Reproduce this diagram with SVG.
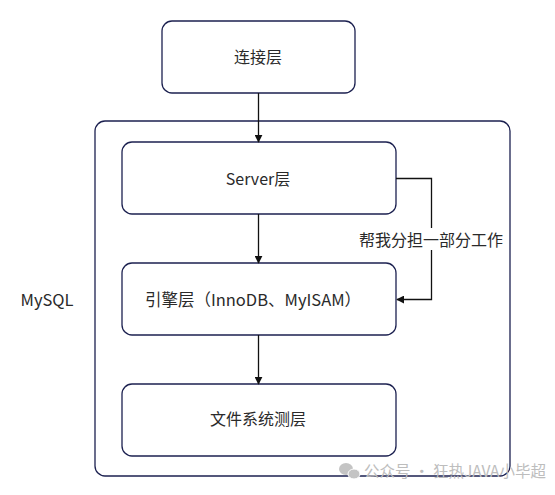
<svg xmlns="http://www.w3.org/2000/svg" width="555" height="495" viewBox="0 0 555 495">
<style>
.box{fill:#fff;stroke:#1c2150;stroke-width:1.3}
.t{font-family:"Noto Sans CJK SC","Microsoft YaHei",sans-serif;font-size:16px;fill:#2a2a2a;text-anchor:middle;dominant-baseline:central}
.c{fill:none;stroke:#111;stroke-width:1.3}
.wm{font-family:"Noto Sans CJK SC",sans-serif;font-size:15.5px;fill:#bdbdbd}
</style>
<defs>
<marker id="ah" viewBox="0 0 10 10" refX="9" refY="5" markerWidth="8" markerHeight="8" markerUnits="userSpaceOnUse" orient="auto">
<path d="M0,0 L10,5 L0,10 z" fill="#111"/>
</marker>
</defs>
<rect width="555" height="495" fill="#fff"/>
<g id="mysql">
<rect class="box" x="95" y="121" width="415" height="355" rx="10"/>
<text class="t" x="47" y="299" style="font-size:16.5px">MySQL</text>
</g>
<g id="conn">
<rect class="box" x="162" y="21" width="193" height="72" rx="10"/>
<text class="t" x="258" y="56">连接层</text>
</g>
<g id="server">
<rect class="box" x="122" y="142" width="274" height="72" rx="10"/>
<text class="t" x="258" y="178">Server层</text>
</g>
<g id="engine">
<rect class="box" x="122" y="263" width="274" height="72" rx="10"/>
<text class="t" x="253" y="299" style="font-size:16.5px">引擎层（InnoDB、MyISAM）</text>
</g>
<g id="fs">
<rect class="box" x="122" y="384" width="274" height="72" rx="10"/>
<text class="t" x="258" y="418">文件系统测层</text>
</g>
<g id="connectors">
<line class="c" x1="258.5" y1="93" x2="258.5" y2="142" marker-end="url(#ah)"/>
<line class="c" x1="258.5" y1="214" x2="258.5" y2="263" marker-end="url(#ah)"/>
<line class="c" x1="258.5" y1="335" x2="258.5" y2="384" marker-end="url(#ah)"/>
<polyline class="c" points="396,178.5 431.5,178.5 431.5,299.5 397,299.5" marker-end="url(#ah)"/>
<rect x="356" y="228" width="151" height="22" fill="#fff"/>
<text class="t" x="431" y="239">帮我分担一部分工作</text>
</g>
<g id="watermark">
<ellipse cx="346" cy="469" rx="7" ry="6" fill="#c4c4c4"/>
<ellipse cx="354" cy="474" rx="6" ry="5" fill="#c4c4c4" stroke="#fff" stroke-width="1"/>
<text class="wm" x="364" y="477">公众号 · 狂热JAVA小毕超</text>
</g>
</svg>
